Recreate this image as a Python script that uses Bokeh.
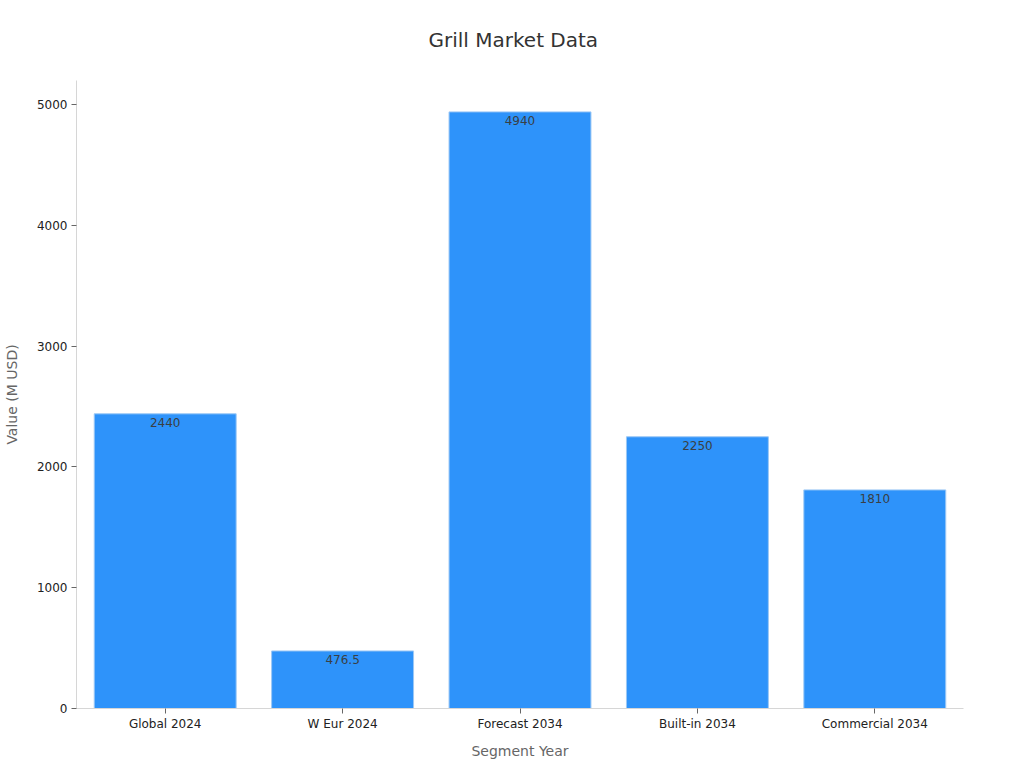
from bokeh.plotting import figure
from bokeh.models import ColumnDataSource, Range1d, LabelSet
from bokeh.core.properties import value
from bokeh.embed import file_html
from bokeh.resources import INLINE

categories = ["Global 2024", "W Eur 2024", "Forecast 2034", "Built-in 2034", "Commercial 2034"]
values = [2440, 476.5, 4940, 2250, 1810]
labels = ["2440", "476.5", "4940", "2250", "1810"]

src = ColumnDataSource(dict(cat=categories, val=values, lab=labels))

FONT = "DejaVu Sans"
p = figure(x_range=categories, y_range=Range1d(0, 5200),
           width=1008, height=752, output_backend="svg", toolbar_location=None,
           frame_width=887, frame_height=628,
           min_border_left=68, min_border_right=53, min_border_top=80, min_border_bottom=44,
           title="Grill Market Data")

p.title.text_font = FONT
p.title.text_font_size = "20px"
p.title.text_font_style = "normal"
p.title.text_color = "#333333"
p.title.align = "left"
p.title.offset = 352
p.title.standoff = 54
p.title.vertical_align = "top"

p.vbar(x="cat", top="val", width=0.8, source=src, fill_color="#2E93FA",
       line_color="#9cc8f5", line_width=1)

lbl = LabelSet(x="cat", y="val", text="lab", source=src, text_align="center",
               text_baseline="top", y_offset=-4, text_font_size=value("12px"),
               text_color="#3a3f44", text_font=value(FONT))
p.add_layout(lbl)

p.xgrid.visible = False
p.ygrid.visible = False
p.outline_line_color = None

for ax in (p.xaxis[0], p.yaxis[0]):
    ax.axis_line_color = "#d6d6d6"
    ax.major_tick_line_color = "#666666"
    ax.minor_tick_line_color = None
    ax.major_tick_out = 5
    ax.major_tick_in = 0
    ax.major_label_text_font = FONT
    ax.major_label_text_font_size = "12px"
    ax.major_label_text_color = "#222222"
    ax.axis_label_text_font = FONT
    ax.axis_label_text_font_size = "14px"
    ax.axis_label_text_font_style = "normal"
    ax.axis_label_text_color = "#666666"

p.yaxis.axis_label = "Value (M USD)"
p.xaxis.axis_label = "Segment Year"
p.yaxis.ticker = [0, 1000, 2000, 3000, 4000, 5000]
p.yaxis.major_label_standoff = 4
p.xaxis.major_label_standoff = 3
p.xaxis.axis_label_standoff = 9
p.yaxis.axis_label_standoff = 14

open("out.html", "w").write(file_html(p, INLINE))
